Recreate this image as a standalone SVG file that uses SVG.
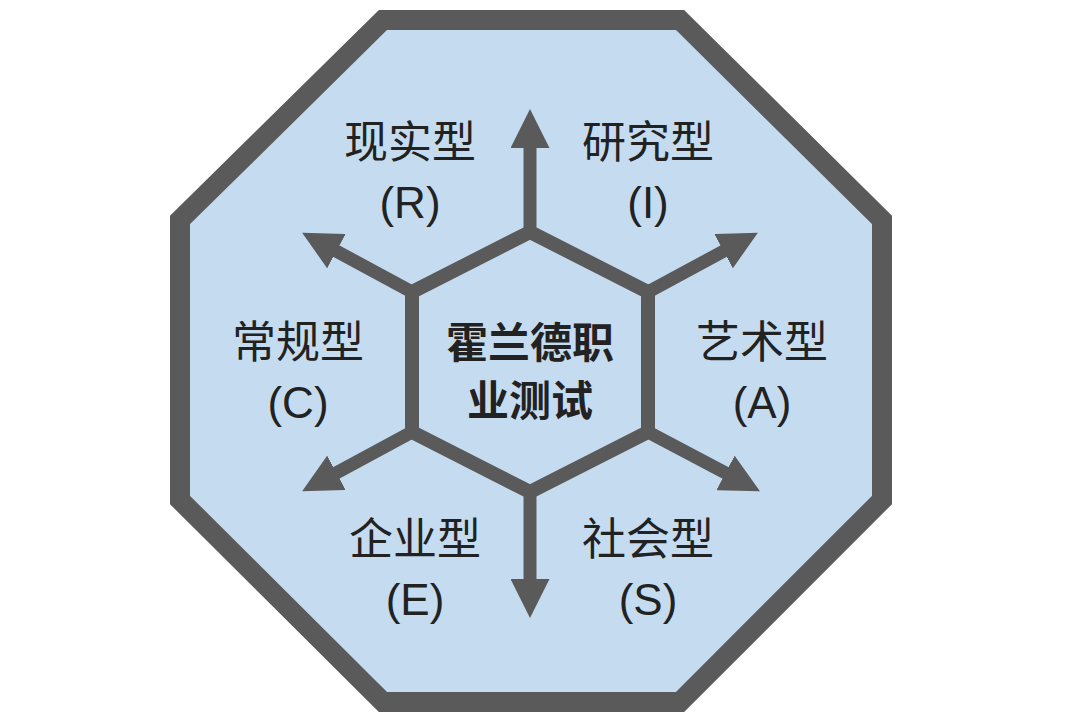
<svg xmlns="http://www.w3.org/2000/svg" width="1082" height="724" viewBox="0 0 1082 724">
<style>
.t{font-family:"Liberation Sans","Noto Sans CJK SC",sans-serif;font-size:44px;fill:#222;text-anchor:middle}
.b{font-weight:bold;font-size:42px}
.c line{stroke:#5a5a5a;stroke-width:13}
</style>
<defs><marker id="a" markerWidth="3" markerHeight="3" refX="1" refY="1.5" orient="auto" markerUnits="strokeWidth"><path d="M0,0L3,1.5L0,3z" fill="#5a5a5a"/></marker></defs>
<rect width="1082" height="724" fill="#fff"/>
<g id="frame"><polygon points="383,20 680,20 882,220 882,500 680,702 383,702 180,500 180,220" fill="#c5dcf0" stroke="#5a5a5a" stroke-width="20"/></g>
<g class="c" id="connectors">
<line x1="530" y1="232" x2="530" y2="135" marker-end="url(#a)"/>
<line x1="648" y1="292" x2="735" y2="245" marker-end="url(#a)"/>
<line x1="648" y1="432" x2="737" y2="479" marker-end="url(#a)"/>
<line x1="530" y1="492" x2="530" y2="592" marker-end="url(#a)"/>
<line x1="412" y1="432" x2="325" y2="479" marker-end="url(#a)"/>
<line x1="412" y1="292" x2="325" y2="245" marker-end="url(#a)"/>
</g>
<g id="center"><polygon points="530,232 648,292 648,432 530,492 412,432 412,292" fill="#c5dcf0" stroke="#5a5a5a" stroke-width="14"/>
<text class="t b" x="530" y="358">霍兰德职</text><text class="t b" x="530" y="416">业测试</text></g>
<g id="R"><text class="t" x="410" y="158">现实型</text><text class="t" x="410" y="218">(R)</text></g>
<g id="I"><text class="t" x="648" y="158">研究型</text><text class="t" x="648" y="218">(I)</text></g>
<g id="C"><text class="t" x="298" y="358">常规型</text><text class="t" x="298" y="418">(C)</text></g>
<g id="A"><text class="t" x="762" y="358">艺术型</text><text class="t" x="762" y="418">(A)</text></g>
<g id="E"><text class="t" x="415" y="555">企业型</text><text class="t" x="415" y="615">(E)</text></g>
<g id="S"><text class="t" x="648" y="555">社会型</text><text class="t" x="648" y="615">(S)</text></g>
</svg>
